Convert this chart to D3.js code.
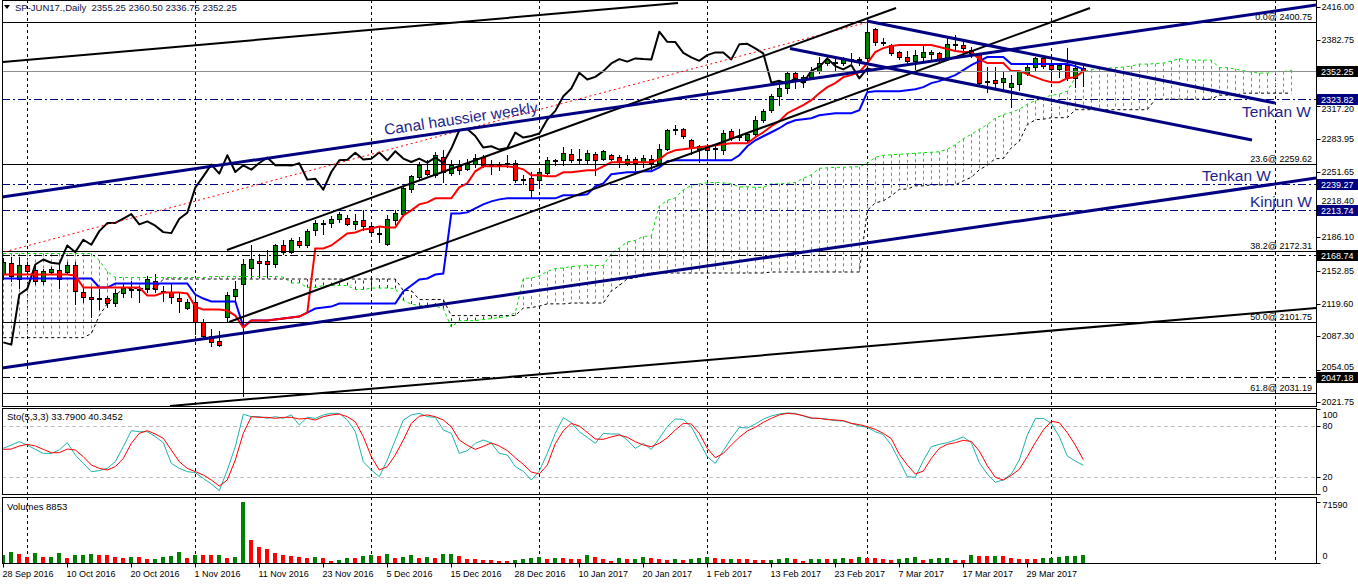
<!DOCTYPE html>
<html><head><meta charset="utf-8">
<script src="https://cdn.jsdelivr.net/npm/d3@7/dist/d3.min.js"></script>
<style>
html,body{margin:0;padding:0;background:#fff;}
svg{display:block;font-family:"Liberation Sans",Arial,sans-serif;}
</style></head><body>
<svg id="chart" width="1358" height="584"></svg>
<script>
// ---------------- DATA ----------------
const title = "SP-JUN17.,Daily  2355.25 2360.50 2336.75 2352.25";
const stoTitle = "Sto(5,3,3) 33.7900 40.3452";
const volTitle = "Volumes 8853";

const open = [2150,2160.7,2144.7,2158,2153.7,2143,2151.3,2153.7,2151.3,2158,
2132,2126.3,2125.3,2125.3,2120.3,2130.3,2134.3,2134.3,2134.7,2142.3,
2132.3,2131.3,2125.7,2115.7,2121.3,2101.3,2087.3,2083,2107,2127.3,
2139.7,2155.7,2162.7,2162.7,2159.7,2178,2171.3,2182.3,2178,2193,
2200,2200.3,2204.3,2205.7,2199,2203,2197.3,2189,2179,2203,
2209,2234.7,2246.3,2253.7,2248,2266.3,2250.7,2257.3,2254.7,2259.7,
2266.3,2258,2258,2259.7,2260.3,2244.7,2245.3,2243,2250.3,2263.7,
2263.7,2269.7,2264.7,2263,2269.7,2264.7,2268,2266.3,2260.7,2264.7,
2261.3,2264.7,2260.3,2274.7,2294,2294,2283,2274.7,2276.3,2275,
2273.7,2292,2287,2283.7,2289.7,2303,2313,2327,2334.7,2350.3,
2341.3,2346.3,2352.3,2359.7,2361.3,2359.7,2363.7,2363.7,2364.7,2394,
2380.7,2378,2370.7,2365.7,2362.3,2365.7,2368.7,2369.7,2363.7,2379,
2378,2373,2368.7,2342,2343,2341.3,2336.3,2339,2349.7,2356.3,
2364.7,2358,2353.7,2358,2344.7,2355.25];
const high = [2165,2166,2166,2161,2159.7,2154.7,2156,2159.7,2161.3,2161.3,
2136,2136,2134.7,2128,2134.7,2139.7,2143,2138,2148,2149.7,
2138,2139.7,2131.3,2124.7,2126.3,2104.7,2094.7,2093,2131.3,2142.3,
2164.7,2178,2169.7,2173,2179.7,2183,2185,2186.3,2194.7,2203,
2203,2207,2211.3,2208,2209.7,2213,2201.3,2196.3,2208,2213,
2237,2248,2261.3,2263,2271.3,2273,2263,2263,2264.7,2269.7,
2268,2263,2261.3,2268,2263,2248,2251.3,2254.7,2266.3,2264.7,
2276.3,2274.7,2274.7,2273,2271.3,2273,2269.7,2268,2268,2266.3,
2268,2268,2279.7,2294.7,2298.7,2295.7,2284.7,2278,2279.7,2277,
2293,2294,2294.7,2291.3,2307,2313.7,2329,2338,2351.3,2351.3,
2348,2356.3,2365.7,2365.7,2367,2365.7,2369.7,2366.3,2400.75,2394.7,
2384.7,2379,2372.3,2372.3,2373,2379,2373,2370.7,2384.7,2388,
2381.3,2375.7,2370.3,2356.3,2356.3,2351.3,2348,2353,2359.7,2366.3,
2366.3,2359.7,2359.7,2375.3,2359.7,2360.5];
const low = [2145,2143,2136,2150,2139.7,2139.7,2150,2136,2149.7,2119.7,
2121.3,2106.3,2114.7,2116.3,2118,2126.3,2126.3,2121.3,2131.3,2131.3,
2123,2120.3,2111.3,2114.7,2089.7,2084.7,2078,2077.3,2101.3,2123,
2028,2146.3,2146.3,2146.3,2156.3,2169.7,2170,2176.3,2176.3,2188,
2189.7,2196.3,2201.3,2198,2194.7,2193,2188,2181.3,2178,2199.7,
2207.7,2231.3,2244.7,2248,2246.3,2241.3,2248,2249.7,2253,2256.3,
2256.3,2249.7,2253,2256.3,2241.3,2239,2225.7,2238,2249.7,2258,
2258,2261.3,2259,2259,2248,2263,2263,2256.3,2258,2253,
2256.3,2254.7,2259,2273.7,2289.7,2285.7,2269,2261.3,2263,2263.7,
2269.7,2283.7,2283.7,2281.3,2286.3,2301.3,2311.3,2318,2330.3,2335.3,
2335.7,2344.7,2349.7,2358,2353,2358,2359.7,2358,2363.7,2378,
2378,2368,2363.7,2359,2353.7,2363,2363,2362.3,2363,2373,
2372.3,2366.3,2339,2331.3,2334.7,2333,2316.3,2333,2348,2353,
2354.7,2346.3,2346.3,2343,2336.3,2336.75];
const close = [2161.3,2147.3,2158,2153,2143,2152.3,2154.7,2144.7,2158.7,2132.3,
2126.3,2124.7,2125,2120.3,2131,2136.3,2134.7,2134,2144.7,2134.7,
2132,2127,2123,2122,2101.3,2088,2081.3,2079,2129,2134.7,
2159,2164,2160.7,2159.7,2178,2171.3,2183.7,2178.7,2192.3,2200.3,
2200.5,2204.7,2209.3,2199,2202,2197.7,2191.3,2190.3,2204.7,2210.7,
2235.7,2247,2258.7,2249.7,2268,2251.3,2258,2253.7,2260.3,2265.7,
2258,2258.3,2257.7,2260,2243.7,2244.5,2233.7,2251.3,2263,2263.5,
2270.5,2263.7,2264.5,2270.7,2263,2272,2264.7,2261.3,2264.7,2260.7,
2265.7,2260.3,2274.7,2293,2294.3,2287.3,2275.7,2277,2273.7,2275.3,
2290.7,2285.7,2287.3,2289.7,2303.7,2312.3,2327,2334.7,2350.3,2343.7,
2346.3,2352,2359.7,2364,2361.5,2364.7,2364,2363.5,2391.3,2381.3,
2381,2370.3,2365.7,2362.3,2368,2370.7,2370.7,2363.7,2378.7,2379.3,
2374.7,2369.7,2340.3,2342.3,2339.7,2344.7,2340.3,2352.3,2356.3,2364.7,
2357,2353.7,2358,2344.7,2354.7,2352.25];

const tenkan = [2149,2149,2149,2149,2149,2149,2149,2149,2149,2148,
2136,2136,2136,2136,2136,2136,2136,2136,2128,2128,
2131,2131,2131,2130,2117,2114,2114,2114,2113,2108,
2096,2103,2103,2103,2104,2105,2106,2107,2111,2175,
2175,2178,2184,2190,2191,2194,2195,2197,2196,2196,
2208,2213,2219,2221,2225,2225,2225,2236,2240,2252,
2257,2257,2257,2257,2256,2254,2248,2248,2247,2247,
2251,2251,2252,2253,2253,2257,2261,2261,2261,2261,
2261,2261,2264,2270,2273,2274,2275,2276,2277,2278,
2279,2280,2280,2280,2286,2291,2297,2302,2310,2314,
2318,2323,2330,2336,2340,2346,2348,2351,2360,2371,
2375,2377,2378,2378,2378,2378,2378,2376,2374,2372,
2371,2371,2364,2360,2360,2360,2352,2352,2349,2346,
2343,2341,2341,2345,2346,2352];
const kijun = [2145,2145,2145,2145,2145,2145,2145,2145,2145,2145,
2145,2145,2136,2136,2140,2140,2140,2140,2140,2140,
2140,2140,2140,2140,2129,2125,2122,2122,2122,2122,
2097,2103,2103,2103,2104,2105,2106,2107,2111,2115,
2116,2117,2120,2120,2120,2120,2120,2120,2120,2120,
2132,2138,2144,2145,2149,2150,2210,2210,2211,2215,
2219,2222,2224,2225,2225,2225,2225,2225,2225,2225,
2228,2228,2228,2229,2237,2240,2249,2250,2251,2251,
2252,2252,2256,2262,2263,2263,2263,2263,2263,2263,
2263,2263,2268,2277,2283,2287,2291,2295,2300,2303,
2304,2305,2308,2309,2310,2310,2310,2313,2331,2332,
2332,2332,2332,2333,2334,2336,2340,2342,2345,2348,
2353,2358,2362,2366,2366,2366,2359,2359,2359,2359,
2359,2359,2359,2359,2357,2354];
const senkouA = [2170,2170,2170,2170,2170,2170,2170,2170,2170,2170,
2170,2170,2163,2152,2146,2146,2146,2146,2146,2146,
2146,2146,2146,2146,2146,2146,2147,2147,2147,2147,
2147,2147,2147,2147,2147,2146.5,2140.5,2140.5,2136,2136,
2138,2138,2138,2138,2134,2134,2135.5,2135.5,2135.5,2135,
2123,2119.5,2118,2118,2117.5,2115,2096.5,2103,2103,2103,
2104,2105,2106,2107,2111,2145,2145.5,2147.5,2152,2155,
2155.5,2157,2157.5,2158.5,2158,2158,2170,2175.5,2181.5,2183,
2187,2187.5,2217.5,2223,2225.5,2233.5,2238,2239.5,2240.5,2241,
2240.5,2239.5,2236.5,2236.5,2236,2236,2239.5,2239.5,2240,2241,
2245,2248.5,2255,2255.5,2256,2256,2256.5,2256.5,2260,2266,
2268,2268.5,2269,2269.5,2270,2270.5,2271,2271.5,2274,2278.5,
2284.5,2289,2294,2298.5,2305,2308.5,2311,2314,2319,2322.5,
2325,2328,2329,2332,2345.5,2351.5,2353.5,2354.5,2355,2355.5,
2356,2357,2359,2359,2359.5,2360,2362,2364.5,2363,2363,
2363,2363,2355.5,2355.5,2354,2352.5,2351,2350,2350,2352,
2351.5,2353];
const senkouB = [2086,2086,2086,2086,2086,2086,2086,2086,2086,2086,
2086,2090,2108,2120,2128,2135,2135,2135,2135,2135,
2144.5,2144.5,2144.5,2144.5,2144.5,2144.5,2144.5,2144.5,2144.5,2144.5,
2144.5,2144.5,2144.5,2144.5,2144.5,2144.5,2144.5,2144.5,2144.5,2144.5,
2144.5,2144.5,2144.5,2144.5,2144.5,2144.5,2144.5,2144.5,2144.5,2144.5,
2133,2133,2124,2124,2124,2124,2108,2108,2108,2108,
2108,2108,2108,2108,2108,2115.5,2116,2117.5,2119.7,2119.7,
2119.7,2120.5,2120.5,2120.5,2120.5,2120.5,2132.5,2138,2144.7,2145.5,
2149.7,2150.5,2150.5,2150.5,2150.5,2150.5,2150.5,2150.5,2150.5,2150.5,
2150.5,2150.5,2150.5,2150.5,2150.5,2150.5,2151.5,2151.5,2151.5,2151.5,
2151.5,2151.5,2151.5,2151.5,2151.5,2151.5,2151.5,2151.5,2213,2220.5,
2222.5,2227.5,2234,2234.3,2237.5,2237.5,2238.5,2238.5,2238.5,2238.5,
2242.5,2246,2253.5,2258,2264.7,2264.7,2275.5,2282,2298.5,2303.5,
2304,2305.5,2305.5,2305.5,2313.5,2313.5,2313.5,2313.5,2313.5,2313.5,
2313.5,2313.5,2313.5,2313.5,2324,2324,2324,2324,2324,2324,
2324,2324,2328,2328,2328,2330,2330,2330,2330,2330,
2330,2330];

const stoK = [53.7,57.6,61.6,57.6,52.5,47.8,47.8,51.8,60.4,45.9,
36,26.3,27.5,30.2,38,55.7,74.5,73.3,73.3,67.5,
60.4,36,30.2,26.3,25.1,18.4,11.8,3.9,28.2,55.7,
93.8,91,91,89,91,89,93,81.2,90.2,89,
93,94.9,94.9,87,73.3,38,28.2,20.4,40,63.5,
87,93,94.9,91,90.2,75.3,71.4,47.8,51,59.6,
63.5,60,47.8,45.9,32.2,26.7,16.5,27,47.8,71.4,
89.8,84,73.3,66.7,59.6,71.4,70.6,70.6,63.5,53.7,
59.6,52.5,65.5,79.2,88.2,87.8,79.2,61.6,43.9,36,
51,65.5,78.4,77.6,82.4,88,91.8,94.1,95.3,94.9,
91.8,89,89,88.2,86.3,85.9,83.1,80,78.4,73.3,
69.8,57.6,39.2,20.4,19.6,39.2,55.7,58.4,60.4,63.5,
67.1,60.4,36.9,23.5,13.7,16.5,23.5,40,69.4,88.6,
89,83.1,67.5,44.7,38.8,33.79];
const stoD = [52.5,52.9,56.5,58.4,56.5,52.5,48.6,48.6,52.9,51.8,
43.9,34.1,30.2,28.2,32.2,41.9,59.6,71.4,74.5,70.6,
65.5,51.8,38,30.2,26.3,22.4,16.5,9.4,16.5,40,
71.4,91,90.2,90.2,89,90.2,90.2,88.2,89,87,
91,93,94,91,85,67.5,43.9,28.2,32.2,45.9,
63.5,83,91.5,93,91,87,79.2,63.5,57.3,52.5,
56.1,60,56.5,51,42.7,34.9,25.9,23.5,34.1,59.2,
74.5,83.1,80,72.5,64.7,64.3,67.1,69.4,66.7,61.6,
57.6,55.7,59.6,66.3,75.3,83.1,82.4,71.4,53.7,42.7,
47.8,57.6,66.7,74.1,78.4,84.3,89,93,94.9,94.1,
92.2,89.4,89,87.5,87.1,86.3,83.1,81.6,79.2,76,
71.4,65.1,46.7,34.1,23.5,27,41.9,53.7,58.4,60.4,
63.1,61.9,50.6,33.3,19.6,16.5,21.9,29,43.9,60.4,
75.3,85.5,84,72.2,57.6,40.35];
const volumes = [9400,13300,10600,7000,11700,7000,7200,11700,5900,9000,
9100,10200,9100,9000,7000,5900,7000,6900,4300,4400,
7000,8000,12500,5900,9100,9000,8900,9000,5900,7600,
71590,27000,19100,16400,11700,9000,8000,7000,6000,7000,
5900,2300,3200,5900,5800,8000,9000,8000,10200,5900,
7000,9000,5900,7000,5800,11000,11100,8000,5100,4400,
3300,3200,2200,2100,4000,5100,5900,7000,4700,5500,
5400,4700,4400,9000,7000,4400,2200,5500,4400,4700,
7000,5500,4400,3300,4400,4000,5100,5900,7000,5900,
4400,4500,4400,4300,3300,3200,4000,4400,5500,4400,
2200,4400,4500,4400,4500,5500,4700,7000,5900,5500,
4400,3300,4400,5500,7000,3300,4400,5500,5600,3300,
3200,9000,8000,7900,8000,7900,5900,4400,4300,4200,
5500,5600,7000,8000,8500,8853];

const dateBars = [0,8,16,24,32,40,48,56,64,72,80,88,96,104,112,120,128];
const dateLabels = ["28 Sep 2016","10 Oct 2016","20 Oct 2016","1 Nov 2016","11 Nov 2016","23 Nov 2016","5 Dec 2016","15 Dec 2016","28 Dec 2016","10 Jan 2017","20 Jan 2017","1 Feb 2017","13 Feb 2017","23 Feb 2017","7 Mar 2017","17 Mar 2017","29 Mar 2017"];
const separatorBars = [3,24,46,67,88,108,131,159];
const priceTicks = [2416.00,2382.75,2317.20,2283.95,2251.65,2218.40,2186.10,2152.85,2119.60,2087.30,2054.05,2021.75];
const stoTicks = [100,80,20,0];
const stoLevels = [80,20];
const volTicks = [71590,0];
const bidPrice = 2352.25;
const navyLevels = [2323.82,2239.27,2213.74];
const blackLevels = [2168.74,2047.18];
const fibNames = ["0.0","23.6","38.2","50.0","61.8"];
const fibValues = [2400.75,2259.62,2172.31,2101.75,2031.19];
const fibBase = [-0.41,2170.4,108,2400.75];
const blackTrends = [[-0.04,2361.1,84.34,2420.0],[20.84,2017.8,164.09,2115.6],[27.96,2173.5,111.59,2415],[28.21,2101.6,135.84,2415]];
const navyTrends = [[-0.16,2226.4,164.09,2418],[-0.16,2055.7,164.09,2245.3],[107.96,2402,158.96,2320.2],[98.34,2374.6,156.09,2283.3]];
const channelText = "Canal haussier weekly";
const levelTexts = ["Tenkan W","Tenkan W","Kinjun W"];

// ---------------- LAYOUT ----------------
const P = {l:2, r:1316, mainT:0, mainB:406, stoT:408, stoB:494, volT:497, volB:563};
const FONT = '"Liberation Sans", Arial, sans-serif';
const svg = d3.select('#chart');
const x = d3.scaleLinear().domain([0,135]).range([3.3,1083.3]);
const y = d3.scaleLinear().domain([2021.75,2416]).range([402,7]);
const ys = d3.scaleLinear().domain([0,100]).range([494,409]);
const yv = d3.scaleLinear().domain([0,71590]).range([563,502]);
const px = v => Math.round(v) + 0.5;
const fmt2 = d3.format('.2f');

const defs = svg.append('defs');
function clip(id,t,b){ defs.append('clipPath').attr('id',id).append('rect').attr('x',P.l).attr('y',t).attr('width',P.r-P.l).attr('height',b-t); }
clip('cMain',P.mainT,P.mainB); clip('cSto',P.stoT,P.stoB); clip('cVol',P.volT,P.volB);

svg.append('rect').attr('width',1358).attr('height',584).attr('fill','#fff');

const gMain = svg.append('g').attr('clip-path','url(#cMain)');
const gSto = svg.append('g').attr('clip-path','url(#cSto)');
const gVol = svg.append('g').attr('clip-path','url(#cVol)');

// month separators
[[gMain,P.mainT,P.mainB],[gSto,P.stoT,P.stoB],[gVol,P.volT,P.volB]].forEach(([g,t,b])=>{
  g.append('g').selectAll('line').data(separatorBars).join('line')
   .attr('x1',d=>px(x(d))).attr('x2',d=>px(x(d))).attr('y1',t).attr('y2',b)
   .attr('stroke','#000').attr('stroke-dasharray','3,3');
});

// ---- cloud hatching
const cloudIdx = d3.range(senkouA.length);
gMain.append('g').selectAll('line').data(cloudIdx).join('line')
  .attr('x1',i=>px(x(i))).attr('x2',i=>px(x(i)))
  .attr('y1',i=>y(senkouA[i])).attr('y2',i=>y(senkouB[i]))
  .attr('stroke',i=>senkouA[i]>=senkouB[i]?'#00e000':'#333')
  .attr('stroke-dasharray','3,3').attr('stroke-width',1);

// ---- candles
const bars = d3.range(open.length);
const gC = gMain.append('g');
gC.selectAll('line').data(bars).join('line')
  .attr('x1',i=>px(x(i))).attr('x2',i=>px(x(i)))
  .attr('y1',i=>Math.round(y(high[i]))).attr('y2',i=>Math.round(y(low[i]))+1)
  .attr('stroke','#000');
gC.selectAll('rect').data(bars).join('rect')
  .attr('x',i=>Math.round(x(i))-2+0.5).attr('width',4)
  .attr('y',i=>Math.round(y(Math.max(open[i],close[i])))+0.5)
  .attr('height',i=>Math.max(1,Math.round(y(Math.min(open[i],close[i])))-Math.round(y(Math.max(open[i],close[i])))))
  .attr('fill',i=>close[i]>=open[i]?'#008000':'#ff0000')
  .attr('stroke','#000');

// ---- senkou lines
const lineIdx = (arr)=>d3.line().x((d,i)=>x(i)).y(d=>y(d))(arr);
gMain.append('path').attr('d',lineIdx(senkouA)).attr('fill','none').attr('stroke','#00e000').attr('stroke-dasharray','3,3');
gMain.append('path').attr('d',lineIdx(senkouB)).attr('fill','none').attr('stroke','#000').attr('stroke-dasharray','3,3');

// ---- chikou (close plotted 26 bars back)
const chikouLine = d3.line().x((d,i)=>x(i)).y(d=>y(d));
gMain.append('path').attr('d',chikouLine(close.slice(26))).attr('fill','none').attr('stroke','#000').attr('stroke-width',2).attr('stroke-linejoin','round');
// ---- tenkan / kijun
gMain.append('path').attr('d',lineIdx(kijun)).attr('fill','none').attr('stroke','#0000ff').attr('stroke-width',2);
gMain.append('path').attr('d',lineIdx(tenkan)).attr('fill','none').attr('stroke','#ff0000').attr('stroke-width',2);

// ---- horizontal objects
function hline(v,color,dash){
  gMain.append('line').attr('x1',P.l).attr('x2',P.r).attr('y1',px(y(v))).attr('y2',px(y(v)))
   .attr('stroke',color).attr('stroke-dasharray',dash||null);
}
hline(bidPrice,'#909090');
navyLevels.forEach(v=>hline(v,'#000080','8,3,2,3'));
blackLevels.forEach(v=>hline(v,'#000','8,3,2,3'));
fibValues.forEach((v,k)=>{
  hline(v,'#000');
  gMain.append('text').attr('x',1312).attr('y',Math.round(y(v))-2).attr('text-anchor','end')
   .attr('font-size',9).attr('font-family',FONT).attr('fill','#000').text(fibNames[k]+'@ '+fmt2(v));
});
// fib base (red dotted)
gMain.append('line').attr('x1',x(fibBase[0])).attr('y1',y(fibBase[1])).attr('x2',x(fibBase[2])).attr('y2',y(fibBase[3]))
  .attr('stroke','#ff0000').attr('stroke-dasharray','2,3');

// ---- trendlines
gMain.append('g').selectAll('line').data(blackTrends).join('line')
  .attr('x1',d=>x(d[0])).attr('y1',d=>y(d[1])).attr('x2',d=>x(d[2])).attr('y2',d=>y(d[3]))
  .attr('stroke','#000').attr('stroke-width',2);
gMain.append('g').selectAll('line').data(navyTrends).join('line')
  .attr('x1',d=>x(d[0])).attr('y1',d=>y(d[1])).attr('x2',d=>x(d[2])).attr('y2',d=>y(d[3]))
  .attr('stroke','#000080').attr('stroke-width',3);

// ---- texts on chart
const n1 = navyTrends[0];
const ax1=x(n1[0]), ay1=y(n1[1]), ax2=x(n1[2]), ay2=y(n1[3]);
const ang = Math.atan2(ay2-ay1, ax2-ax1)*180/Math.PI;
const tx = 385, tyLine = ay1 + (ay2-ay1)*(tx-ax1)/(ax2-ax1);
gMain.append('text').attr('transform',`translate(${tx},${tyLine-6}) rotate(${ang})`)
  .attr('font-size',15.5).attr('font-family',FONT).attr('fill','#1e1e8c').text(channelText);
gMain.append('text').attr('x',1311).attr('y',y(navyLevels[0])+17.5).attr('text-anchor','end')
  .attr('font-size',15.5).attr('font-family',FONT).attr('fill','#1e1e8c').text(levelTexts[0]);
gMain.append('text').attr('x',1271).attr('y',y(navyLevels[1])-3).attr('text-anchor','end')
  .attr('font-size',15.5).attr('font-family',FONT).attr('fill','#1e1e8c').text(levelTexts[1]);
gMain.append('text').attr('x',1312).attr('y',y(navyLevels[2])-3).attr('text-anchor','end')
  .attr('font-size',15.5).attr('font-family',FONT).attr('fill','#1e1e8c').text(levelTexts[2]);

// ---- stochastic
gSto.append('g').selectAll('line').data(stoLevels).join('line')
  .attr('x1',P.l).attr('x2',P.r).attr('y1',d=>px(ys(d))).attr('y2',d=>px(ys(d)))
  .attr('stroke','#c0c0c0').attr('stroke-dasharray','4,3');
const stoLine = d3.line().x((d,i)=>x(i)).y(d=>ys(d));
gSto.append('path').attr('d',stoLine(stoK)).attr('fill','none').attr('stroke','#20b2aa').attr('stroke-width',1);
gSto.append('path').attr('d',stoLine(stoD)).attr('fill','none').attr('stroke','#ff0000').attr('stroke-width',1);

// ---- volumes
gVol.append('g').selectAll('rect').data(bars).join('rect')
  .attr('x',i=>Math.round(x(i))-2).attr('width',4)
  .attr('y',i=>Math.round(yv(volumes[i]))).attr('height',i=>P.volB-Math.round(yv(volumes[i])))
  .attr('fill',i=>(i>0 && volumes[i]<volumes[i-1])?'#ff0000':'#008000');

// ---- frames
[[P.mainT,P.mainB],[P.stoT,P.stoB],[P.volT,P.volB]].forEach(([t,b])=>{
  svg.append('rect').attr('x',P.l+0.5).attr('y',t+0.5).attr('width',P.r-P.l).attr('height',b-t)
   .attr('fill','none').attr('stroke','#000');
});

// ---- axes
function styleAxis(g){ g.select('.domain').remove(); g.attr('font-size',9).attr('font-family',FONT); g.selectAll('text').attr('fill','#000'); g.selectAll('line').attr('stroke','#000'); }
const boxes = [{v:bidPrice,c:'#000'}].concat(navyLevels.map(v=>({v:v,c:'#000080'}))).concat(blackLevels.map(v=>({v:v,c:'#000'})));
const gYA = svg.append('g').attr('transform',`translate(${P.r+0.5},0)`)
  .call(d3.axisRight(y).tickValues(priceTicks).tickSize(4).tickPadding(1).tickFormat(fmt2));
styleAxis(gYA);
gYA.selectAll('.tick').attr('transform',d=>`translate(0,${px(y(d))})`);
// nudge tick labels away from the level boxes they sit next to
gYA.selectAll('.tick text').attr('y',d=>{
  let off = 0;
  boxes.forEach(b=>{
    const dy = y(d) - y(b.v);
    if (Math.abs(dy) < 10) off = dy > 0 ? Math.max(off, 10 - dy) : -Math.max(-off, 10 + dy);
  });
  return Math.max(-4, Math.min(3, off));
});

// level boxes on price axis
const gB = svg.append('g');
gB.selectAll('rect').data(boxes).join('rect')
  .attr('x',P.r+1).attr('y',d=>Math.round(y(d.v))-5).attr('width',1358-P.r-1).attr('height',11).attr('fill',d=>d.c);
gB.selectAll('text').data(boxes).join('text')
  .attr('x',P.r+5).attr('y',d=>Math.round(y(d.v))+4).attr('font-size',9).attr('font-family',FONT)
  .attr('fill','#fff').text(d=>fmt2(d.v));

const gSA = svg.append('g').attr('transform',`translate(${P.r+0.5},0)`)
  .call(d3.axisRight(ys).tickValues(stoTicks).tickSize(4).tickPadding(2).tickFormat(d3.format('d')));
styleAxis(gSA);
gSA.selectAll('.tick').filter(d=>d===100).select('text').attr('dy','0.9em');
gSA.selectAll('.tick').filter(d=>d===0).select('text').attr('dy','-0.3em');

const gVA = svg.append('g').attr('transform',`translate(${P.r+0.5},0)`)
  .call(d3.axisRight(yv).tickValues(volTicks).tickSize(4).tickPadding(2).tickFormat(d3.format('d')));
styleAxis(gVA);
gVA.selectAll('.tick').filter(d=>d===71590).select('text').attr('dy','0.6em');
gVA.selectAll('.tick').filter(d=>d===0).select('text').attr('dy','-0.5em');

const gXA = svg.append('g').attr('transform',`translate(0,${P.volB+0.5})`)
  .call(d3.axisBottom(x).tickValues(dateBars).tickSize(4).tickPadding(3).tickFormat((d,i)=>dateLabels[i]));
styleAxis(gXA);
gXA.selectAll('.tick').attr('transform',d=>`translate(${px(x(d))},0)`);
gXA.selectAll('text').attr('text-anchor','start').attr('x',-1);

// ---- titles
svg.append('path').attr('d','M4,5 L10,5 L7,9 Z').attr('fill','#000');
svg.append('text').attr('x',15).attr('y',11).attr('font-size',9.5).attr('font-family',FONT)
  .attr('fill','#101040').style('white-space','pre').text(title);
svg.append('text').attr('x',7).attr('y',420).attr('font-size',9.5).attr('font-family',FONT).attr('fill','#000').text(stoTitle);
svg.append('text').attr('x',7).attr('y',510).attr('font-size',9.5).attr('font-family',FONT).attr('fill','#000').text(volTitle);
</script>
</body></html>
